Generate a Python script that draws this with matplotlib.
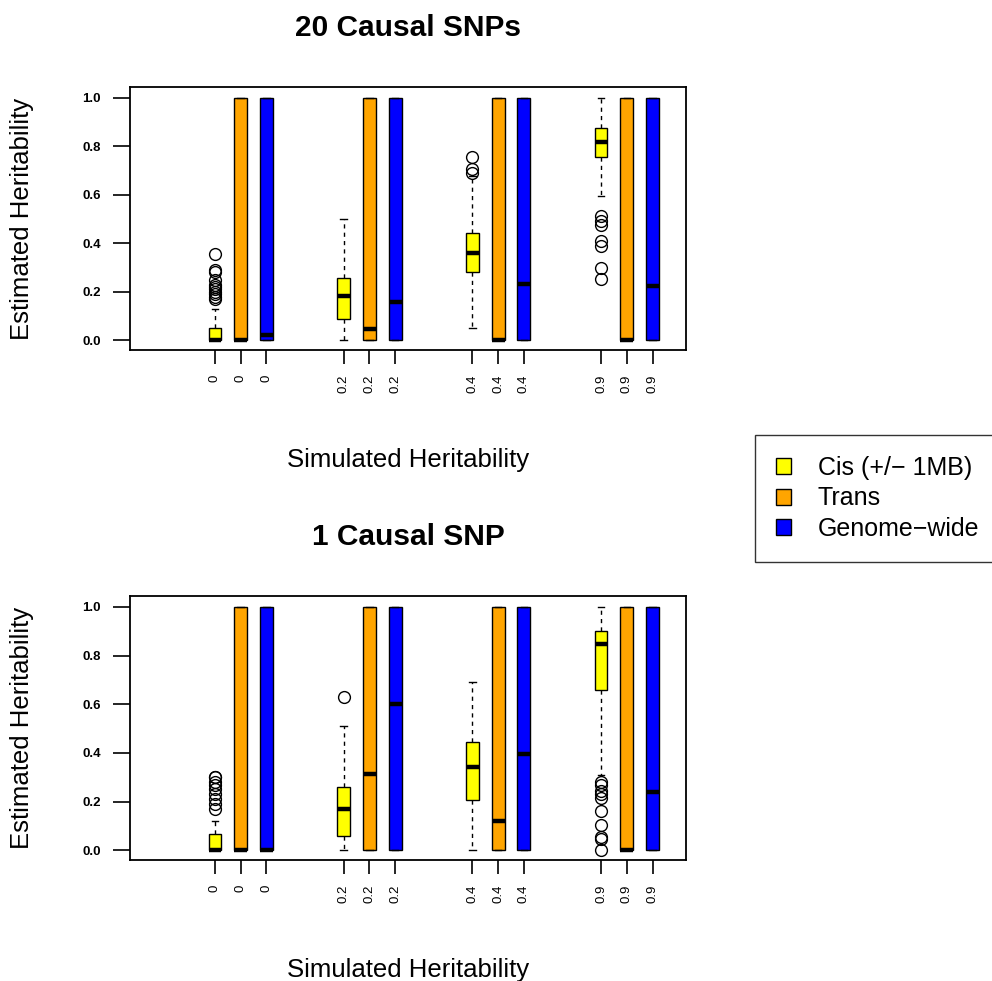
import matplotlib
matplotlib.use("Agg")
import matplotlib.pyplot as plt
from matplotlib.patches import Patch

plt.rcParams['font.family'] = ['Liberation Sans', 'DejaVu Sans']

# Simulated heritability levels (one group of three boxes per level)
sim_levels = ["0", "0.2", "0.4", "0.9"]
series_names = ["Cis (+/\u2212 1MB)", "Trans", "Genome\u2212wide"]
series_colors = ["#FFFF00", "#FFA500", "#0000FF"]

# ---- 20 causal SNPs ----
cis20_q1 = [0.0, 0.087, 0.282, 0.755]
cis20_med = [0.0, 0.183, 0.362, 0.817]
cis20_q3 = [0.05, 0.259, 0.442, 0.876]
cis20_lo = [0.0, 0.0, 0.052, 0.594]
cis20_hi = [0.13, 0.50, 0.679, 1.0]
cis20_out = [[0.355, 0.29, 0.28, 0.25, 0.23, 0.22, 0.21, 0.20, 0.19, 0.18, 0.17],
             [],
             [0.755, 0.705, 0.69],
             [0.511, 0.493, 0.475, 0.41, 0.39, 0.30, 0.252]]
trans20_med = [0.0, 0.045, 0.0, 0.0]
gw20_med = [0.02, 0.158, 0.231, 0.222]

# ---- 1 causal SNP ----
cis1_q1 = [0.0, 0.059, 0.208, 0.658]
cis1_med = [0.0, 0.171, 0.342, 0.849]
cis1_q3 = [0.068, 0.258, 0.443, 0.90]
cis1_lo = [0.0, 0.0, 0.0, 0.308]
cis1_hi = [0.12, 0.51, 0.692, 1.0]
cis1_out = [[0.30, 0.30, 0.28, 0.27, 0.25, 0.23, 0.21, 0.19, 0.17],
            [0.63],
            [],
            [0.28, 0.27, 0.245, 0.23, 0.215, 0.16, 0.105, 0.055, 0.045, 0.0]]
trans1_med = [0.0, 0.312, 0.119, 0.0]
gw1_med = [0.0, 0.60, 0.397, 0.241]

# Trans / genome-wide estimates span the full [0, 1] range
full_q1, full_q3, full_lo, full_hi = 0.0, 1.0, 0.0, 1.0

W, H = 992, 981
fig = plt.figure(figsize=(W / 100, H / 100), dpi=100)


def fx(px):
    return px / W


def fy(py):
    return 1 - py / H


def panel_stats(cq1, cmed, cq3, clo, chi, cout, tmed, gmed):
    stats, pos, cols, labels = [], [], [], []
    for g in range(len(sim_levels)):
        base = 4 + 5 * g
        stats.append(dict(med=cmed[g], q1=cq1[g], q3=cq3[g],
                          whislo=clo[g], whishi=chi[g], fliers=cout[g]))
        for m in (tmed[g], gmed[g]):
            stats.append(dict(med=m, q1=full_q1, q3=full_q3,
                              whislo=full_lo, whishi=full_hi, fliers=[]))
        pos += [base, base + 1, base + 2]
        cols += series_colors
        labels += [sim_levels[g]] * 3
    return stats, pos, cols, labels


def draw_panel(ax, stats, pos, cols, labels, title, top_px, bottom_px):
    bp = ax.bxp(stats, positions=pos, widths=0.5, patch_artist=True,
                showfliers=True, capwidths=0.25,
                boxprops=dict(edgecolor="black", linewidth=1.0),
                medianprops=dict(color="black", linewidth=3.2, solid_capstyle="butt"),
                whiskerprops=dict(color="black", linewidth=1.0, linestyle=(0, (3, 3))),
                capprops=dict(color="black", linewidth=1.0),
                flierprops=dict(marker="o", markerfacecolor="none",
                                markeredgecolor="black", markersize=8.5,
                                markeredgewidth=1.0, linestyle="none"))
    for patch, c in zip(bp["boxes"], cols):
        patch.set_facecolor(c)
    ax.set_xlim(0.7, 22.3)
    ax.set_ylim(-0.04, 1.045)
    ax.set_yticks([0.0, 0.2, 0.4, 0.6, 0.8, 1.0])
    ax.set_yticklabels(["0.0", "0.2", "0.4", "0.6", "0.8", "1.0"],
                       fontsize=9.5, fontweight="bold")
    ax.set_xticks(pos)
    ax.set_xticklabels(labels, rotation=90, fontsize=9.5)
    ax.tick_params(axis="y", length=12, width=1.2, pad=9)
    ax.tick_params(axis="x", length=10, width=1.2, pad=8)
    for sp in ax.spines.values():
        sp.set_linewidth(1.3)
    mid = (fy(top_px) + fy(bottom_px)) / 2
    fig.text(fx(408), fy(top_px - 59), title, ha="center", va="center",
             fontsize=21.5, fontweight="bold")
    fig.text(fx(408), fy(bottom_px + 110), "Simulated Heritability",
             ha="center", va="center", fontsize=18.5)
    fig.text(fx(22), mid, "Estimated Heritability", ha="center", va="center",
             rotation=90, fontsize=18.5)


ax1 = fig.add_axes([fx(130), fy(350), fx(686) - fx(130), fy(87) - fy(350)])
ax2 = fig.add_axes([fx(130), fy(860), fx(686) - fx(130), fy(596) - fy(860)])

s, p, c, l = panel_stats(cis20_q1, cis20_med, cis20_q3, cis20_lo, cis20_hi,
                         cis20_out, trans20_med, gw20_med)
draw_panel(ax1, s, p, c, l, "20 Causal SNPs", 87, 350)
s, p, c, l = panel_stats(cis1_q1, cis1_med, cis1_q3, cis1_lo, cis1_hi,
                         cis1_out, trans1_med, gw1_med)
draw_panel(ax2, s, p, c, l, "1 Causal SNP", 596, 860)

handles = [Patch(facecolor=col, edgecolor="black", linewidth=1.0) for col in series_colors]
leg = fig.legend(handles, series_names, loc="upper left",
                 bbox_to_anchor=(fx(755), fy(435)), fontsize=18,
                 frameon=True, fancybox=False, edgecolor="black",
                 handlelength=0.6, handleheight=0.6, handletextpad=1.05,
                 borderpad=0.85, labelspacing=0.25, borderaxespad=0)
leg.get_frame().set_linewidth(1.0)

fig.savefig("out.png", dpi=100)
